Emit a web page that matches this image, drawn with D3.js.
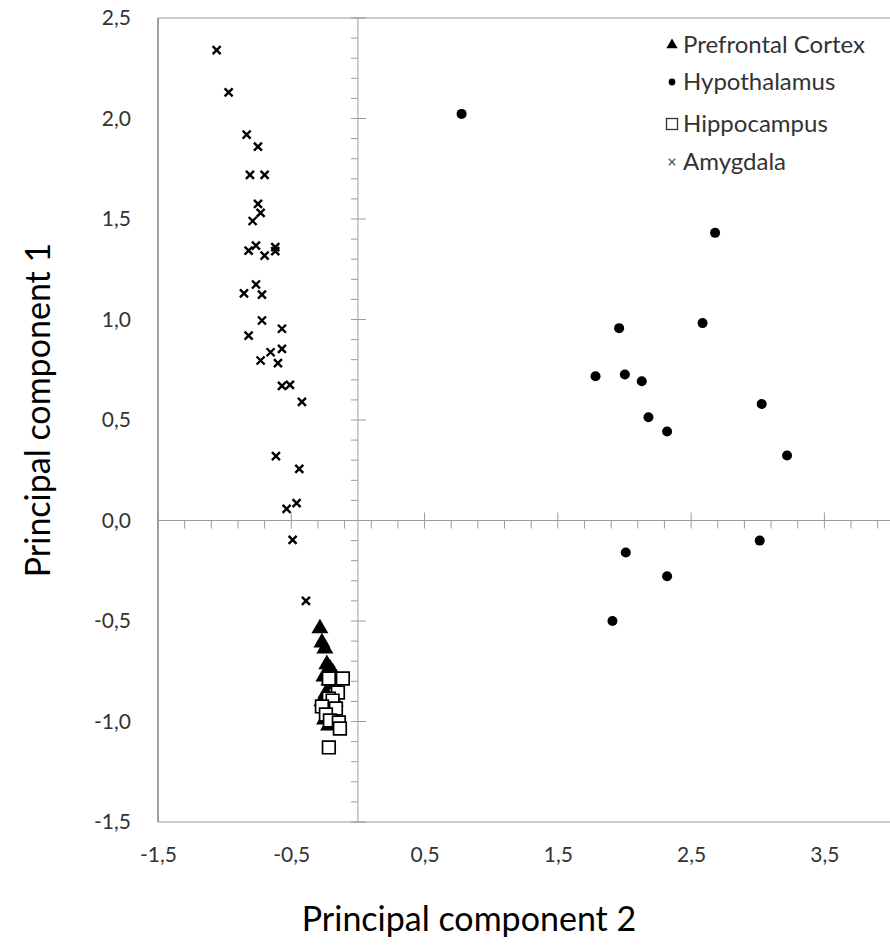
<!DOCTYPE html>
<html>
<head>
<meta charset="utf-8">
<script src="https://cdn.jsdelivr.net/npm/d3@7"></script>
<style>
  body { margin: 0; background: #fff; }
  svg { display: block; font-family: Lato, "Open Sans", sans-serif; }
</style>
</head>
<body>
<svg width="890" height="948"></svg>
<script>
// Data: [PC2, PC1] pairs
const prefrontal = [
  [-0.285, -0.537], [-0.27, -0.607], [-0.248, -0.637], [-0.233, -0.716],
  [-0.21, -0.736], [-0.188, -0.756], [-0.255, -0.776], [-0.218, -0.796],
  [-0.18, -0.816], [-0.24, -0.86], [-0.27, -0.9], [-0.2, -0.95],
  [-0.25, -0.99], [-0.17, -0.9], [-0.22, -1.02]
]
const hypothalamus = [
  [0.778, 2.023], [2.68, 1.431], [2.586, 0.982], [1.96, 0.957],
  [1.783, 0.718], [2.003, 0.726], [2.13, 0.693], [2.18, 0.514],
  [2.32, 0.443], [3.03, 0.58], [3.22, 0.323], [2.01, -0.159],
  [3.015, -0.1], [2.32, -0.277], [1.91, -0.5]
]
const hippocampus = [
  [-0.113, -0.786], [-0.218, -0.786], [-0.15, -0.856], [-0.218, -0.886],
  [-0.19, -0.896], [-0.27, -0.925], [-0.165, -0.935], [-0.24, -0.965],
  [-0.21, -0.995], [-0.143, -1.005], [-0.135, -1.035], [-0.218, -1.129]
]
const amygdala = [
  [-1.06, 2.34], [-0.97, 2.13], [-0.835, 1.92], [-0.75, 1.86],
  [-0.81, 1.72], [-0.70, 1.72], [-0.75, 1.575], [-0.73, 1.53],
  [-0.79, 1.49], [-0.82, 1.343], [-0.765, 1.368], [-0.70, 1.318],
  [-0.62, 1.36], [-0.62, 1.34], [-0.765, 1.174], [-0.855, 1.13],
  [-0.72, 1.124], [-0.72, 0.995], [-0.82, 0.92], [-0.57, 0.954],
  [-0.655, 0.837], [-0.57, 0.854], [-0.73, 0.796], [-0.60, 0.783],
  [-0.57, 0.67], [-0.51, 0.675], [-0.42, 0.59], [-0.615, 0.32],
  [-0.44, 0.257], [-0.535, 0.058], [-0.46, 0.086], [-0.49, -0.096],
  [-0.39, -0.40]
]
const seriesNames = ['Prefrontal Cortex', 'Hypothalamus', 'Hippocampus', 'Amygdala']
const xTicks = [-1.5, -0.5, 0.5, 1.5, 2.5, 3.5]
const yTicks = [-1.5, -1.0, -0.5, 0.0, 0.5, 1.0, 1.5, 2.0, 2.5]

const svg = d3.select('svg')
const fmt = d => d3.format('.1f')(d).replace('.', ',').replace('−', '-')

const x = d3.scaleLinear().domain([-1.5, 4]).range([158, 891])
const y = d3.scaleLinear().domain([-1.5, 2.5]).range([822, 18])

// frame
svg.append('rect')
  .attr('x', x(-1.5)).attr('y', y(2.5))
  .attr('width', x(4) - x(-1.5)).attr('height', y(-1.5) - y(2.5))
  .attr('fill', 'none').attr('stroke', '#9a9a9a').attr('stroke-width', 1)
svg.append('line')
  .attr('x1', x(-1.5)).attr('x2', x(-1.5)).attr('y1', y(2.5)).attr('y2', y(-1.5))
  .attr('stroke', '#a0a0a0').attr('stroke-width', 2)

// tick labels
svg.append('g')
  .attr('transform', `translate(0,${y(-1.5)})`)
  .call(d3.axisBottom(x).tickValues(xTicks).tickFormat(fmt).tickSize(0).tickPadding(25))
  .call(g => g.select('.domain').remove())
  .selectAll('text').attr('font-size', 21).attr('fill', '#333').attr('font-family', 'Lato')

svg.append('g')
  .attr('transform', `translate(${x(-1.5)},0)`)
  .call(d3.axisLeft(y).tickValues(yTicks).tickFormat(fmt).tickSize(0).tickPadding(27))
  .call(g => g.select('.domain').remove())
  .selectAll('text').attr('font-size', 21).attr('fill', '#333').attr('font-family', 'Lato')

// axes crossing at zero
const axisColor = '#9a9a9a'
svg.append('line')
  .attr('x1', x(-1.5)).attr('x2', x(4)).attr('y1', y(0)).attr('y2', y(0))
  .attr('stroke', axisColor)
svg.append('line')
  .attr('x1', x(0)).attr('x2', x(0)).attr('y1', y(2.5)).attr('y2', y(-1.5))
  .attr('stroke', axisColor)

const xMinor = d3.range(-15, 41, 2).map(d => d / 10)
const yMinor = d3.range(-15, 26, 1).map(d => d / 10)

svg.append('g').selectAll('line')
  .data(xMinor)
  .join('line')
  .attr('x1', d => x(d)).attr('x2', d => x(d))
  .attr('y1', d => xTicks.some(t => Math.abs(t - d) < 1e-6) ? y(0) - 8 : y(0))
  .attr('y2', y(0) + 8)
  .attr('stroke', axisColor)

svg.append('g').selectAll('line')
  .data(yMinor)
  .join('line')
  .attr('y1', d => y(d)).attr('y2', d => y(d))
  .attr('x1', x(0) - 7)
  .attr('x2', d => Math.abs(d * 2 - Math.round(d * 2)) < 1e-6 ? x(0) + 8 : x(0))
  .attr('stroke', axisColor)

// markers
const tri = d3.symbol().type(d3.symbolTriangle).size(125)
const sq = d3.symbol().type(d3.symbolSquare).size(160)
const cross = s => `M${-s},${-s}L${s},${s}M${-s},${s}L${s},${-s}`

svg.append('g').selectAll('path')
  .data(prefrontal)
  .join('path')
  .attr('d', tri)
  .attr('transform', d => `translate(${x(d[0])},${y(d[1])})`)
  .attr('fill', '#000')

svg.append('g').selectAll('circle')
  .data(hypothalamus)
  .join('circle')
  .attr('cx', d => x(d[0])).attr('cy', d => y(d[1]))
  .attr('r', 5)
  .attr('fill', '#000')

svg.append('g').selectAll('path')
  .data(hippocampus)
  .join('path')
  .attr('d', sq)
  .attr('transform', d => `translate(${x(d[0])},${y(d[1])})`)
  .attr('fill', '#fff').attr('stroke', '#000').attr('stroke-width', 1.7)

svg.append('g').selectAll('path')
  .data(amygdala)
  .join('path')
  .attr('d', cross(4))
  .attr('transform', d => `translate(${x(d[0])},${y(d[1])})`)
  .attr('stroke', '#000').attr('stroke-width', 2.4).attr('fill', 'none')

// legend
const legend = svg.append('g').attr('transform', 'translate(672,45)')
const rows = legend.selectAll('g')
  .data(seriesNames)
  .join('g')
  .attr('transform', (d, i) => `translate(0,${[0, 37, 79, 117][i]})`)

rows.each(function (d, i) {
  const g = d3.select(this)
  if (i === 0) g.append('path').attr('d', d3.symbol().type(d3.symbolTriangle).size(55)).attr('fill', '#000')
  if (i === 1) g.append('circle').attr('r', 3.4).attr('fill', '#000')
  if (i === 2) g.append('rect').attr('x', -5.5).attr('y', -5.5).attr('width', 11).attr('height', 11)
    .attr('fill', '#fff').attr('stroke', '#333').attr('stroke-width', 1.3)
  if (i === 3) g.append('path').attr('d', cross(3.2)).attr('stroke', '#555').attr('stroke-width', 1.3)
})

rows.append('text')
  .attr('x', 11).attr('dy', '0.35em')
  .attr('font-size', 24)
  .attr('fill', '#333')
  .text(d => d)

// axis titles
svg.append('text')
  .attr('x', 469).attr('y', 931)
  .attr('text-anchor', 'middle')
  .attr('font-size', 34)
  .attr('fill', '#000')
  .text('Principal component 2')

svg.append('text')
  .attr('transform', 'translate(50,410) rotate(-90)')
  .attr('text-anchor', 'middle')
  .attr('font-size', 34)
  .attr('fill', '#000')
  .text('Principal component 1')
</script>
</body>
</html>
